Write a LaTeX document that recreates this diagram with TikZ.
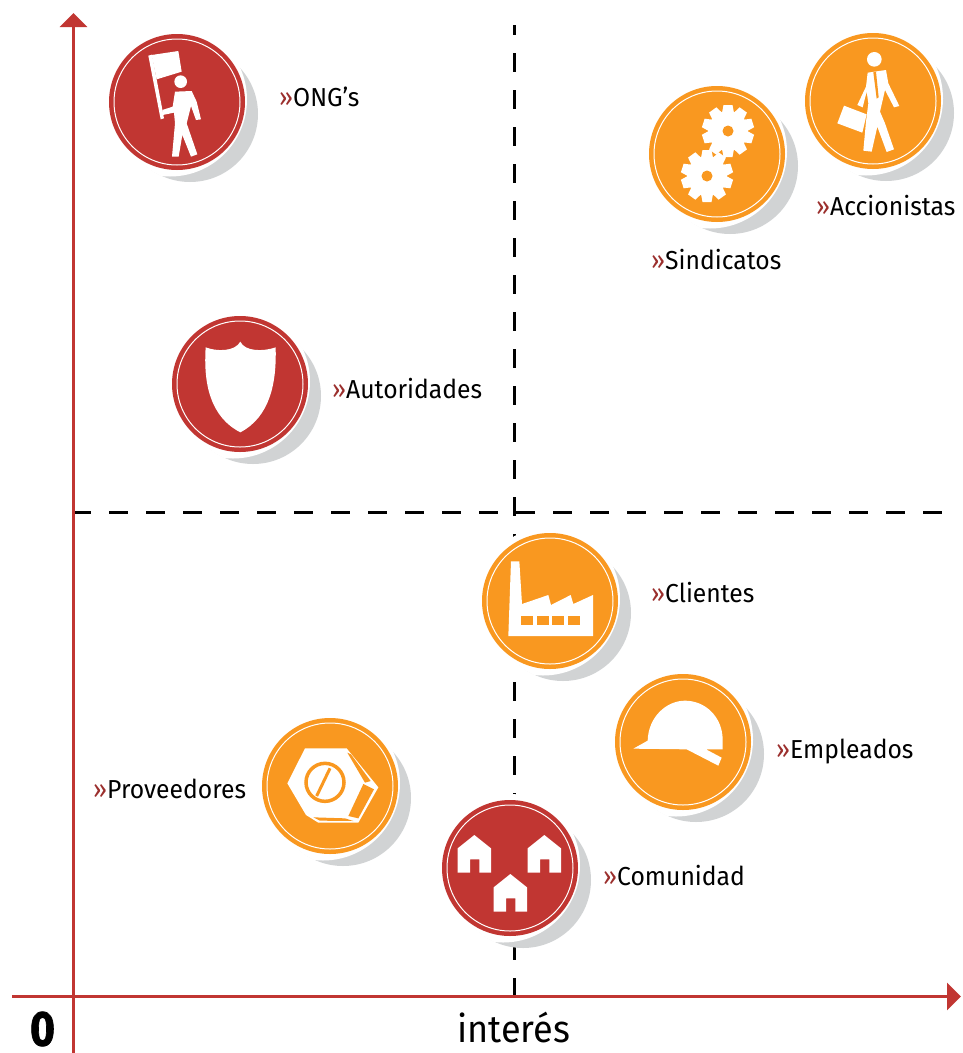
\documentclass[tikz,border=0pt]{standalone}
\usepackage{fontspec}
\setmainfont[FakeStretch=0.95]{Fira Sans}
\usetikzlibrary{positioning,calc,arrows.meta}

\definecolor{axisred}{HTML}{C13632}
\definecolor{badgeorange}{HTML}{F99820}
\definecolor{shadowgray}{HTML}{D1D3D4}
\definecolor{markred}{HTML}{9B2F2D}

\tikzset{
  axisline/.style={axisred,line width=3.5pt,-{Triangle[length=14pt,width=27pt]}},
  dashline/.style={black,line width=3pt,dash pattern=on 18.5pt off 18.5pt},
  badge/.style={circle,minimum size=136pt,inner sep=0pt,fill=#1},
  icon/.style={fill=white,draw=none},
  tag/.style={anchor=base west,font=\fontsize{26}{26}\selectfont,text=black,inner sep=0pt},
}

% halo, crescent shadow, disc and thin ring
\newcommand{\stakeholder}[4]{
  \fill[white] (#2,#3) circle (74pt);
  \begin{scope}
    \fill[shadowgray] ($(#2,#3)+(13,12)$) circle (68pt);
    \clip ($(#2,#3)+(13,12)$) circle (68.5pt);
    \fill[white] ($(#2,#3)+(-7,-2.5)$) circle (77pt);
  \end{scope}
  \node[badge=#4] (#1) at (#2,#3) {};
  \draw[white,line width=1pt] (#1.center) circle (63pt);
}
\newcommand{\tagtext}[1]{{\color{markred}»}#1}
\newcommand{\gearicon}[3]{
  \begin{scope}[shift={(#1,#2)}]
    \fill[white] (0,0) circle (20pt);
    \foreach \ang in {0,36,...,324}
      \fill[white,rotate=\ang] (-4.5,-26) -- (4.5,-26) -- (6,-18) -- (-6,-18) -- cycle;
    \fill[#3] (0,0) circle (5.5pt);
  \end{scope}
}

\begin{document}
\begin{tikzpicture}[x=1pt,y=-1pt]
\useasboundingbox (0,0) rectangle (962,1053);

\coordinate (vtop) at (514.5,25);
\coordinate (vbot) at (514.5,996.5);
\coordinate (hleft) at (72,512);
\coordinate (hright) at (942,512);
\coordinate (ybot) at (73.5,1053);
\coordinate (ytop) at (73.5,13);
\coordinate (xleft) at (12,996.5);
\coordinate (xright) at (961,996.5);

\draw[dashline,dash phase=9pt] (vtop) -- (vbot);
\draw[dashline] (hleft) -- (hright);
\draw[axisline] (ybot) -- (ytop);
\draw[axisline] (xleft) -- (xright);

\stakeholder{ongs}{177}{102}{axisred}
\stakeholder{autoridades}{240}{384}{axisred}
\stakeholder{comunidad}{510}{868}{axisred}
\stakeholder{sindicatos}{717}{154}{badgeorange}
\stakeholder{accionistas}{873}{101}{badgeorange}
\stakeholder{clientes}{550}{601}{badgeorange}
\stakeholder{empleados}{683}{742}{badgeorange}
\stakeholder{proveedores}{330}{786}{badgeorange}

% flag carrier
\begin{scope}[shift={(90,20)},scale=1/3]
  \fill[icon] (175,107) -- (186,104) -- (222,295) -- (212,298) -- cycle;
  \fill[icon] (185,105) -- (265,93) -- (275,155) -- (200,178) -- cycle;
  \fill[icon] (272,185) circle (19pt);
  \fill[icon] (255,215) -- (305,213) -- (320,245) -- (333,298) -- (318,300) -- (303,258)
    -- (290,310) -- (322,403) -- (303,410) -- (277,345) -- (266,410) -- (246,410)
    -- (255,310) -- (252,278) -- (218,285) -- (217,270) -- (248,260) -- cycle;
\end{scope}

% shield
\begin{scope}[shift={(160,310)},scale=1/3]
  \fill[icon] (137,112) .. controls (170,125) and (225,125) .. (241,95)
    .. controls (255,125) and (310,125) .. (347,112)
    .. controls (350,220) and (330,320) .. (241,367)
    .. controls (150,320) and (130,220) .. (137,112) -- cycle;
\end{scope}

% gears
\gearicon{728}{131}{badgeorange}
\gearicon{707}{176}{badgeorange}

% walking man with briefcase
\begin{scope}[shift={(640,20)},scale=1/3]
  \fill[icon] (703,118) circle (22pt);
  \fill[icon] (683,158) -- (738,150) -- (745,190) -- (778,258) -- (762,262) -- (735,210)
    -- (720,275) -- (735,310) -- (762,388) -- (740,396) -- (712,320) -- (695,395)
    -- (670,392) -- (678,305) -- (685,250) -- (680,215) -- (668,262) -- (652,255)
    -- (678,200) -- cycle;
  \fill[badgeorange] (700,157) -- (708,155) -- (716,232) -- (710,236) -- cycle;
  \fill[icon] (612,257) -- (680,283) -- (667,338) -- (592,310) -- cycle;
\end{scope}

% factory
\begin{scope}[shift={(470,520)},scale=1/3]
  \fill[icon] (123,124) -- (148,124) -- (156,252) -- (235,225) -- (243,255) -- (302,225)
    -- (310,252) -- (369,225) -- (369,348) -- (115,348) -- cycle;
  \foreach \winx in {153,201,246,294}
    \fill[badgeorange] (\winx,288) rectangle (\winx+36,315);
\end{scope}

% helmet
\begin{scope}[shift={(470,520)},scale=1/3]
  \fill[icon] (490,686) -- (533,662) .. controls (535,590) and (590,542) .. (645,542)
    .. controls (705,542) and (758,590) .. (758,660) -- (758,688) -- (708,688)
    -- (755,713) -- (745,737) -- (650,688) -- cycle;
\end{scope}

% nut
\begin{scope}[shift={(250,710)},scale=1/3]
  \fill[icon] (165,115) -- (290,115) -- (385,232) -- (325,338) -- (205,338) -- (168,315)
    -- (112,220) -- cycle;
  \fill[badgeorange] (303,133) -- (362,213) -- (345,218) -- (292,128) -- cycle;
  \fill[badgeorange] (340,222) -- (372,238) -- (325,325) -- (295,318) -- cycle;
  \fill[badgeorange] (190,322) -- (285,325) -- (310,333) -- (210,332) -- cycle;
  \draw[badgeorange,line width=3.5pt] (225,217) circle (57pt);
  \draw[badgeorange,line width=3pt] (240,175) -- (200,258);
\end{scope}

% houses
\begin{scope}[shift={(250,710)},scale=1/3]
  \foreach \hx/\hy in {0/0,210/0,108/117}
    \fill[icon,shift={(\hx,\hy)}] (623,415) -- (673,375) -- (723,415) -- (723,488) -- (688,488)
      -- (688,448) -- (660,448) -- (660,488) -- (623,488) -- cycle;
\end{scope}

\node[tag] (ongslabel) at (279,106) {\tagtext{ONG’s}};
\node[tag] (sindicatoslabel) at (651,269) {\tagtext{Sindicatos}};
\node[tag] (accionistaslabel) at (816,215) {\tagtext{Accionistas}};
\node[tag] (autoridadeslabel) at (332,398) {\tagtext{Autoridades}};
\node[tag] (clienteslabel) at (651,602) {\tagtext{Clientes}};
\node[tag] (empleadoslabel) at (776,758) {\tagtext{Empleados}};
\node[tag] (proveedoreslabel) at (93,798) {\tagtext{Proveedores}};
\node[tag] (comunidadlabel) at (603,885) {\tagtext{Comunidad}};

\node[anchor=base west,inner sep=0pt,font=\fontsize{38}{38}\selectfont] (interes) at (457,1042) {interés};
\node[anchor=base,inner sep=0pt,font=\fontsize{49}{49}\selectfont\bfseries\addfontfeature{FakeBold=1.5}] (cero) at (42.5,1045.5) {\scalebox{.92}[1]{0}};
\end{tikzpicture}
\end{document}
